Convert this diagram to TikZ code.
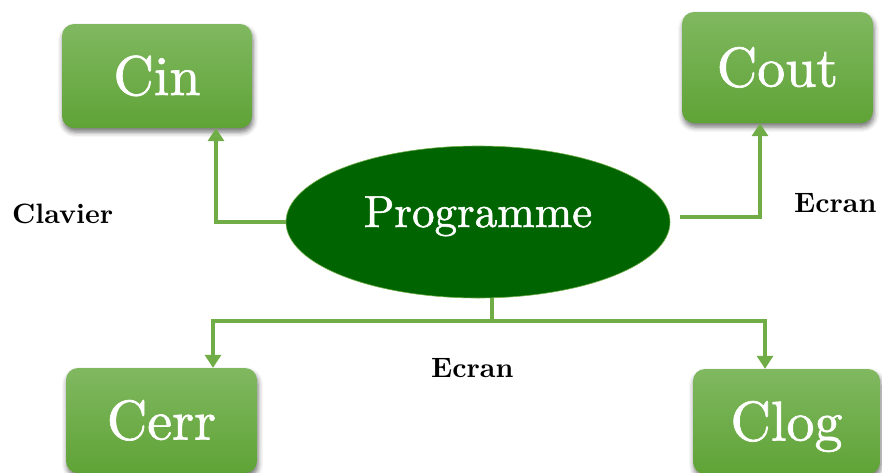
\documentclass[tikz,border=0pt]{standalone}
\usepackage{fontspec}
\usetikzlibrary{shapes.geometric,arrows.meta,shadows.blur,calc}
% design-size 10 Latin Modern, scaled up for the large labels
\newfontfamily\streamfont{lmroman10-regular}[Extension=.otf, FakeBold=1.2]
\newfontfamily\devfont{lmroman10-bold}[Extension=.otf]
\definecolor{boxtop}{HTML}{80B860}
\definecolor{boxbot}{HTML}{5FA336}
\definecolor{linkgreen}{HTML}{70AD47}
\definecolor{progfill}{HTML}{006400}
\tikzset{
  streambox/.style={rectangle, rounded corners=12pt, inner sep=0pt,
    top color=boxtop, bottom color=boxbot, draw=none, text=white,
    font=\streamfont\fontsize{56}{60}\selectfont, text height=38pt, text depth=-4pt,
    blur shadow={shadow xshift=1pt, shadow yshift=-4pt, shadow blur radius=5pt, shadow opacity=55}},
  link/.style={draw=linkgreen, line width=3.5pt},
  linkarrow/.style={link, -{Triangle[width=16pt,length=13pt]}},
  devlabel/.style={font=\devfont\fontsize{28}{30}\selectfont, inner sep=0pt, anchor=base west}
}
\begin{document}
\begin{tikzpicture}[x=1pt,y=-1pt]
\useasboundingbox (0,0) rectangle (882,472);

% stream boxes
\node[streambox, minimum width=190pt, minimum height=104pt] (cin) at (157,76) {Cin};
\node[streambox, minimum width=191pt, minimum height=111pt] (cout) at (777.5,67.5) {Cout};
\node[streambox, minimum width=191pt, minimum height=105pt] (cerr) at (161.5,420.5) {Cerr};
\node[streambox, minimum width=187pt, minimum height=105pt] (clog) at (786.5,421.5) {Clog};

% central program
\node[ellipse, fill=progfill, draw=linkgreen, line width=0.6pt, inner sep=0pt,
      minimum width=384pt, minimum height=152pt, text=white,
      font=\streamfont\fontsize{45}{48}\selectfont, text height=29pt, text depth=19pt]
      (prog) at (478,222) {Programme};

% connectors
\draw[linkarrow] (prog.west) -| ([xshift=59pt]cin.south);

\coordinate (outstart) at ([xshift=10pt,yshift=5pt]prog.east);
\draw[linkarrow] (outstart) -| ([xshift=-17.5pt]cout.south);

\coordinate (hub) at (492,321);
\draw[link] (prog.south -| hub) -- (hub);
\draw[linkarrow] (hub) -| ([xshift=51.5pt]cerr.north);
\draw[linkarrow] (hub) -| ([xshift=-21.5pt]clog.north);

% device labels
\node[devlabel] (clavier) at (12,223) {Clavier};
\node[devlabel] (ecranout) at (794,212) {Ecran};
\node[devlabel] (ecranerr) at (431,377) {Ecran};
\end{tikzpicture}
\end{document}
